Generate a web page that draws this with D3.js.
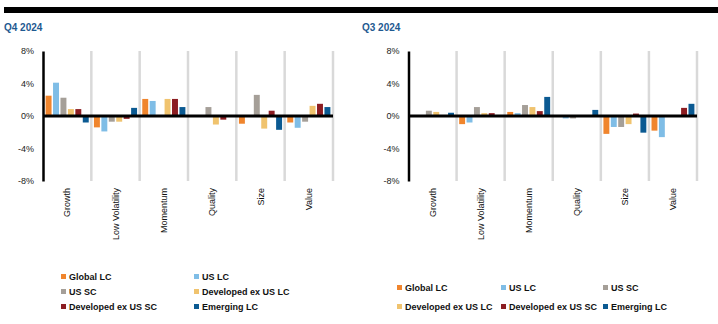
<!DOCTYPE html>
<html>
<head>
<meta charset="utf-8">
<script src="https://cdn.jsdelivr.net/npm/d3@7"></script>
<style>
  body { margin: 0; background: #fff; }
  svg { display: block; font-family: "Liberation Sans", Arial, sans-serif; }
</style>
</head>
<body>
<div id="chart"></div>
<script>
const categories = ["Growth", "Low Volatility", "Momentum", "Quality", "Size", "Value"];
const seriesNames = ["Global LC", "US LC", "US SC", "Developed ex US LC", "Developed ex US SC", "Emerging LC"];
const seriesColors = ["#f0852d", "#7fbde6", "#a59f98", "#f0c36e", "#8c1d22", "#0b5a92"];
const yTicks = [8, 4, 0, -4, -8];

// values in %, one array per series, in category order
const q4Global = [2.5, -1.4, 2.1, 0, -0.95, -0.8];
const q4UsLc = [4.1, -1.9, 1.85, 0, 0, -1.45];
const q4UsSc = [2.25, -0.7, 0, 1.1, 2.6, -0.7];
const q4DevLc = [0.85, -0.7, 2.1, -1.05, -1.55, 1.25];
const q4DevSc = [0.85, -0.35, 2.1, -0.45, 0.65, 1.5];
const q4Em = [-0.8, 1.0, 1.1, 0, -1.7, 1.1];

const q3Global = [0, -1.0, 0.5, 0, -2.2, -1.8];
const q3UsLc = [0, -0.8, 0.35, -0.3, -1.35, -2.6];
const q3UsSc = [0.65, 1.1, 1.35, -0.3, -1.35, 0];
const q3DevLc = [0.5, 0.35, 1.1, 0, -1.0, 0];
const q3DevSc = [0, 0.35, 0.6, 0, 0.3, 1.0];
const q3Em = [0.4, 0, 2.35, 0.75, -2.05, 1.5];

const W = 718, H = 324;
const svg = d3.select("#chart").append("svg").attr("width", W).attr("height", H);

// top rule
svg.append("rect").attr("x", 4).attr("y", 7).attr("width", W - 4).attr("height", 6).attr("fill", "#000");

function drawPanel(cfg) {
  const series = cfg.series;
  const g = svg.append("g");

  g.append("text")
    .attr("x", cfg.titleX).attr("y", 31)
    .attr("fill", "#1f5a91")
    .style("font-size", "10px").style("font-weight", "bold")
    .text(cfg.title);

  const x = d3.scaleBand().domain(categories).range([cfg.x0, cfg.x1]);
  const xi = d3.scaleBand().domain(seriesNames).range([0, x.bandwidth()]).paddingInner(0.2).paddingOuter(0.35);
  const y = d3.scaleLinear().domain([-8, 8]).range([181, 51]);

  // separators
  g.selectAll(".sep").data(categories).enter().append("line")
    .attr("x1", d => x(d) + x.bandwidth()).attr("x2", d => x(d) + x.bandwidth())
    .attr("y1", y(8)).attr("y2", y(-8))
    .attr("stroke", "#d9d9d9").attr("stroke-width", 2.5);

  // y axis
  const axisY = d3.axisLeft(y).tickValues(yTicks).tickSize(0).tickPadding(9).tickFormat(d => d + "%");
  const ay = g.append("g").attr("transform", `translate(${cfg.x0},0)`).call(axisY);
  ay.select(".domain").attr("stroke", "#000").attr("stroke-width", 2.5);
  ay.selectAll("text").attr("fill", "#222").style("font-size", "9px").style("font-family", "Liberation Sans, Arial, sans-serif");

  // bars
  series.forEach((vals, si) => {
    g.selectAll(".bar" + si).data(vals).enter().append("rect")
      .attr("x", (d, i) => x(categories[i]) + xi(seriesNames[si]))
      .attr("width", xi.bandwidth())
      .attr("y", d => y(Math.max(0, d)))
      .attr("height", d => Math.abs(y(d) - y(0)))
      .attr("fill", seriesColors[si]);
  });

  // zero line
  g.append("line")
    .attr("x1", cfg.x0).attr("x2", cfg.x1)
    .attr("y1", y(0)).attr("y2", y(0))
    .attr("stroke", "#000").attr("stroke-width", 3);

  // category labels
  g.selectAll(".cat").data(categories).enter().append("text")
    .attr("transform", d => `translate(${x(d) + x.bandwidth() / 2 + 3},188) rotate(-90)`)
    .attr("text-anchor", "end")
    .attr("fill", "#111")
    .style("font-size", "9px")
    .text(d => d);

  // legend
  const leg = g.selectAll(".leg").data(seriesNames).enter().append("g")
    .attr("transform", (d, i) => {
      const c = i % cfg.legCols, r = Math.floor(i / cfg.legCols);
      return `translate(${cfg.legX[c]},${cfg.legY[r]})`;
    });
  leg.append("rect").attr("x", 0).attr("y", -3).attr("width", 5).attr("height", 5)
    .attr("fill", (d, i) => seriesColors[i]);
  leg.append("text").attr("x", 8).attr("y", 3)
    .attr("fill", "#111")
    .style("font-size", "9px").style("font-weight", "bold")
    .text(d => d);
}

drawPanel({
  title: "Q4 2024", titleX: 4, x0: 43, x1: 333,
  series: [q4Global, q4UsLc, q4UsSc, q4DevLc, q4DevSc, q4Em],
  legCols: 2, legX: [61, 194], legY: [277, 292, 307]
});

drawPanel({
  title: "Q3 2024", titleX: 362, x0: 408.5, x1: 697,
  series: [q3Global, q3UsLc, q3UsSc, q3DevLc, q3DevSc, q3Em],
  legCols: 3, legX: [397, 501, 603], legY: [288, 307]
});
</script>
</body>
</html>
